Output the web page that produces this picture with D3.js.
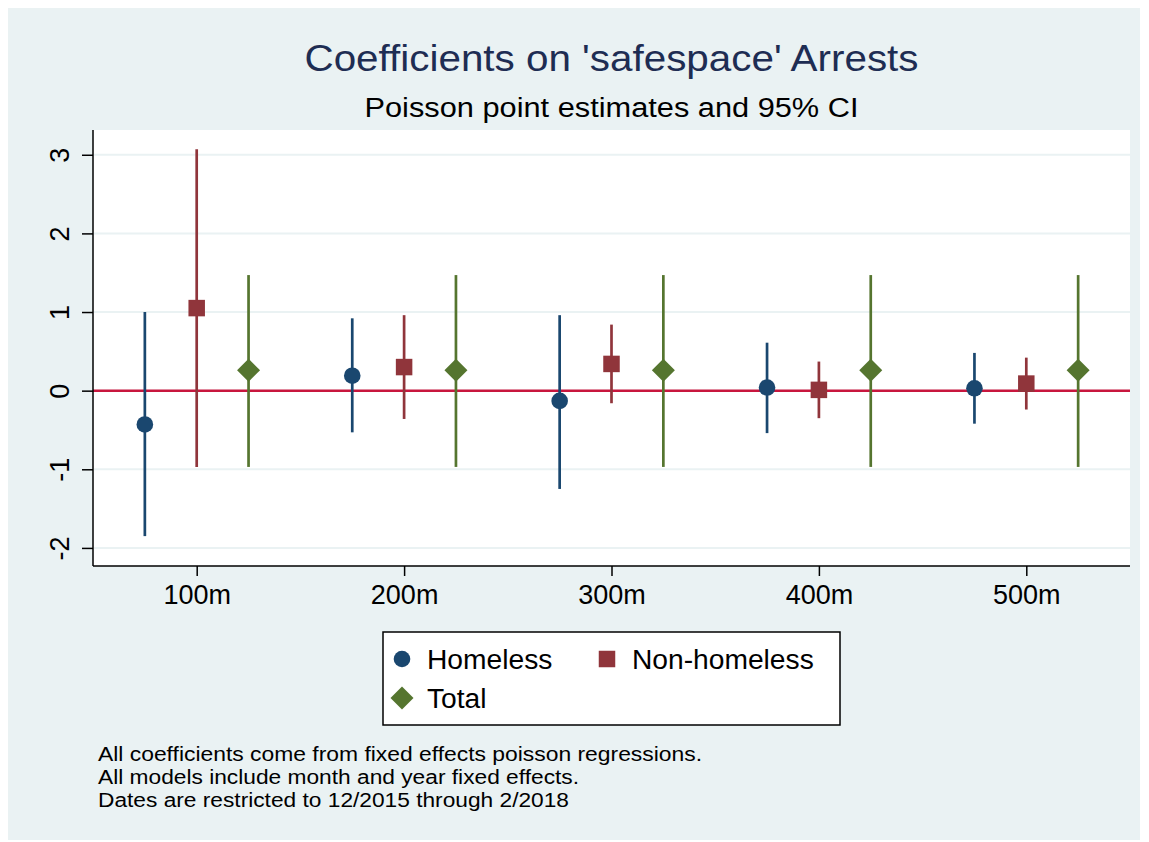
<!DOCTYPE html>
<html>
<head>
<meta charset="utf-8">
<style>
  body {
    margin: 0;
    background-color: #ffffff;
  }

  text {
    font-family: "Liberation Sans", Arial, Helvetica, sans-serif;
  }
</style>
</head>
<body>
<div id="chart"></div>

<script src="https://d3js.org/d3.v7.min.js"></script>
<script>
  // Distance buffers and their labels
  const distances = [100, 200, 300, 400, 500];
  const tickLabels = ['100m', '200m', '300m', '400m', '500m'];
  const yTicks = [-2, -1, 0, 1, 2, 3];

  // Homeless arrests: point estimate and 95% CI
  const homelessEst = [-0.43, 0.19, -0.13, 0.04, 0.03];
  const homelessLo = [-1.85, -0.53, -1.25, -0.54, -0.42];
  const homelessHi = [1.0, 0.92, 0.96, 0.61, 0.48];

  // Non-homeless arrests
  const nonHomelessEst = [1.05, 0.30, 0.34, 0.01, 0.09];
  const nonHomelessLo = [-0.97, -0.36, -0.16, -0.35, -0.24];
  const nonHomelessHi = [3.07, 0.96, 0.84, 0.37, 0.42];

  // Total arrests
  const totalEst = [0.26, 0.26, 0.26, 0.26, 0.26];
  const totalLo = [-0.97, -0.97, -0.97, -0.97, -0.97];
  const totalHi = [1.47, 1.47, 1.47, 1.47, 1.47];

  const seriesNames = ['Homeless', 'Non-homeless', 'Total'];

  // Chart dimensions
  const width = 1149;
  const height = 842;
  const plot = { left: 93, right: 1130, top: 130, bottom: 566 };

  const colors = {
    Homeless: '#1a476f',
    'Non-homeless': '#90353b',
    Total: '#55752f'
  };
  const offsets = { Homeless: -25, 'Non-homeless': 0, Total: 25 };

  const svg = d3.select('#chart')
    .append('svg')
    .attr('width', width)
    .attr('height', height);

  // Graph region background
  svg.append('rect')
    .attr('x', 8)
    .attr('y', 8)
    .attr('width', 1132)
    .attr('height', 832)
    .attr('fill', '#eaf2f3');

  // Plot region
  svg.append('rect')
    .attr('x', plot.left)
    .attr('y', plot.top)
    .attr('width', plot.right - plot.left)
    .attr('height', plot.bottom - plot.top)
    .attr('fill', '#ffffff');

  const xScale = d3.scaleLinear()
    .domain([50, 550])
    .range([plot.left, plot.right]);

  const yScale = d3.scaleLinear()
    .domain([-2.23, 3.315])
    .range([plot.bottom, plot.top]);

  // Gridlines
  svg.append('g')
    .selectAll('line')
    .data(yTicks)
    .enter()
    .append('line')
    .attr('x1', plot.left + 1)
    .attr('x2', plot.right)
    .attr('y1', (d) => yScale(d))
    .attr('y2', (d) => yScale(d))
    .attr('stroke', '#eaf2f3')
    .attr('stroke-width', 2);

  // Reference line at zero
  svg.append('line')
    .attr('x1', plot.left)
    .attr('x2', plot.right)
    .attr('y1', yScale(0))
    .attr('y2', yScale(0))
    .attr('stroke', '#c8163e')
    .attr('stroke-width', 2.5);

  // Build rows for each series
  const rows = [];
  distances.forEach((dist, i) => {
    rows.push({ name: 'Homeless', x: dist + offsets.Homeless, est: homelessEst[i], lo: homelessLo[i], hi: homelessHi[i] });
    rows.push({ name: 'Non-homeless', x: dist + offsets['Non-homeless'], est: nonHomelessEst[i], lo: nonHomelessLo[i], hi: nonHomelessHi[i] });
    rows.push({ name: 'Total', x: dist + offsets.Total, est: totalEst[i], lo: totalLo[i], hi: totalHi[i] });
  });

  // Confidence interval spikes
  svg.append('g')
    .selectAll('line')
    .data(rows)
    .enter()
    .append('line')
    .attr('x1', (d) => xScale(d.x))
    .attr('x2', (d) => xScale(d.x))
    .attr('y1', (d) => yScale(d.lo))
    .attr('y2', (d) => yScale(d.hi))
    .attr('stroke', (d) => colors[d.name])
    .attr('stroke-width', 2.7);

  // Stata style diamond: a square turned 45 degrees
  const squareDiamond = {
    draw(context, size) {
      const r = Math.sqrt(size / 2);
      context.moveTo(0, -r);
      context.lineTo(r, 0);
      context.lineTo(0, r);
      context.lineTo(-r, 0);
      context.closePath();
    }
  };

  // Marker shapes
  const symbols = {
    Homeless: d3.symbol().type(d3.symbolCircle).size(Math.PI * 8.3 * 8.3),
    'Non-homeless': d3.symbol().type(d3.symbolSquare).size(16.5 * 16.5),
    Total: d3.symbol().type(squareDiamond).size(2 * 11.5 * 11.5)
  };

  svg.append('g')
    .selectAll('path')
    .data(rows)
    .enter()
    .append('path')
    .attr('d', (d) => symbols[d.name]())
    .attr('transform', (d) => `translate(${xScale(d.x)}, ${yScale(d.est)})`)
    .attr('fill', (d) => colors[d.name]);

  // Y axis
  const yAxis = svg.append('g')
    .attr('transform', `translate(${plot.left}, 0)`)
    .call(d3.axisLeft(yScale).tickValues(yTicks).tickSize(11).tickSizeOuter(0).tickFormat((d) => String(d)));

  yAxis.select('.domain')
    .attr('d', `M0,${plot.top}V${plot.bottom}`)
    .attr('stroke', '#000')
    .attr('stroke-width', 1.5);

  yAxis.selectAll('.tick line')
    .attr('stroke', '#000')
    .attr('stroke-width', 1.5);

  yAxis.selectAll('.tick text')
    .attr('x', 0)
    .attr('dy', 0)
    .attr('transform', `translate(${69 - plot.left}, 0) rotate(-90)`)
    .attr('text-anchor', 'middle')
    .attr('font-size', 27)
    .attr('font-family', '"Liberation Sans", Arial, sans-serif')
    .attr('fill', '#000');

  // X axis
  const xAxis = svg.append('g')
    .attr('transform', `translate(0, ${plot.bottom})`)
    .call(d3.axisBottom(xScale).tickValues(distances).tickSize(10).tickSizeOuter(0)
      .tickFormat((d, i) => tickLabels[i]));

  xAxis.select('.domain')
    .attr('d', `M${plot.left},0H${plot.right}`)
    .attr('stroke', '#000')
    .attr('stroke-width', 1.5);

  xAxis.selectAll('.tick line')
    .attr('stroke', '#000')
    .attr('stroke-width', 1.5);

  xAxis.selectAll('.tick text')
    .attr('y', 38)
    .attr('dy', 0)
    .attr('font-size', 27)
    .attr('font-family', '"Liberation Sans", Arial, sans-serif')
    .attr('fill', '#000');

  // Titles
  const midX = (plot.left + plot.right) / 2;

  svg.append('text')
    .attr('x', midX)
    .attr('y', 71)
    .attr('text-anchor', 'middle')
    .attr('font-size', 36)
    .attr('textLength', 614)
    .attr('lengthAdjust', 'spacingAndGlyphs')
    .attr('fill', '#1e2d53')
    .text("Coefficients on 'safespace' Arrests");

  svg.append('text')
    .attr('x', midX)
    .attr('y', 117)
    .attr('text-anchor', 'middle')
    .attr('font-size', 27)
    .attr('textLength', 494)
    .attr('lengthAdjust', 'spacingAndGlyphs')
    .attr('fill', '#000')
    .text('Poisson point estimates and 95% CI');

  // Legend
  const legend = svg.append('g');

  legend.append('rect')
    .attr('x', 383)
    .attr('y', 632)
    .attr('width', 457)
    .attr('height', 93)
    .attr('fill', '#ffffff')
    .attr('stroke', '#000')
    .attr('stroke-width', 1.5);

  const legendPos = [
    { x: 402, y: 659 },
    { x: 607, y: 659 },
    { x: 402, y: 698 }
  ];

  const legendItems = legend.selectAll('g.item')
    .data(seriesNames)
    .enter()
    .append('g')
    .attr('class', 'item')
    .attr('transform', (d, i) => `translate(${legendPos[i].x}, ${legendPos[i].y})`);

  legendItems.append('path')
    .attr('d', (d) => symbols[d]())
    .attr('fill', (d) => colors[d]);

  legendItems.append('text')
    .attr('x', 25)
    .attr('y', 10)
    .attr('font-size', 28.2)
    .attr('fill', '#000')
    .text((d) => d);

  // Notes
  const notes = [
    'All coefficients come from fixed effects poisson regressions.',
    'All models include month and year fixed effects.',
    'Dates are restricted to 12/2015 through 2/2018'
  ];
  const noteWidths = [604, 481, 471];

  svg.append('g')
    .selectAll('text')
    .data(notes)
    .enter()
    .append('text')
    .attr('x', 98)
    .attr('y', (d, i) => 761 + i * 23.2)
    .attr('font-size', 20)
    .attr('textLength', (d, i) => noteWidths[i])
    .attr('lengthAdjust', 'spacingAndGlyphs')
    .attr('fill', '#000')
    .text((d) => d);
</script>
</body>
</html>
